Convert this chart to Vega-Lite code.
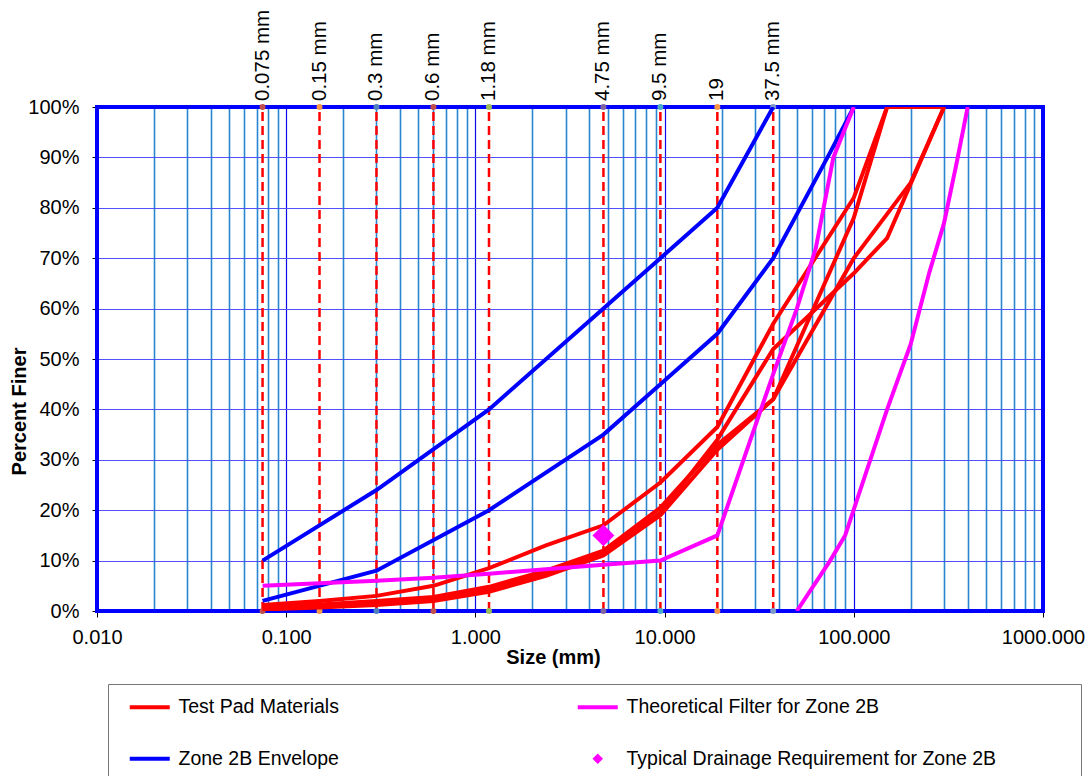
{
  "$schema": "https://vega.github.io/schema/vega-lite/v6.json",
  "width": 946,
  "height": 504,
  "autosize": {"type": "none"},
  "padding": {"left": 97, "top": 107, "right": 43, "bottom": 165},
  "background": "white",
  "config": {"view": {"stroke": null}, "font": "Liberation Sans"},
  "datasets": {
    "sieves": [
      {"size": 0.075, "label": "0.075 mm"},
      {"size": 0.15, "label": "0.15 mm"},
      {"size": 0.3, "label": "0.3 mm"},
      {"size": 0.6, "label": "0.6 mm"},
      {"size": 1.18, "label": "1.18 mm"},
      {"size": 4.75, "label": "4.75 mm"},
      {"size": 9.5, "label": "9.5 mm"},
      {"size": 19, "label": "19"},
      {"size": 37.5, "label": "37.5 mm"}
    ],
    "curves": [
      {"series": "Zone 2B Envelope", "sample": "Z1", "size": 0.075, "pct": 10},
      {"series": "Zone 2B Envelope", "sample": "Z1", "size": 0.3, "pct": 24},
      {"series": "Zone 2B Envelope", "sample": "Z1", "size": 1.18, "pct": 40},
      {"series": "Zone 2B Envelope", "sample": "Z1", "size": 4.75, "pct": 60},
      {"series": "Zone 2B Envelope", "sample": "Z1", "size": 9.5, "pct": 70},
      {"series": "Zone 2B Envelope", "sample": "Z1", "size": 19, "pct": 80},
      {"series": "Zone 2B Envelope", "sample": "Z1", "size": 37.5, "pct": 100},
      {"series": "Zone 2B Envelope", "sample": "Z2", "size": 0.075, "pct": 2},
      {"series": "Zone 2B Envelope", "sample": "Z2", "size": 0.3, "pct": 8},
      {"series": "Zone 2B Envelope", "sample": "Z2", "size": 1.18, "pct": 20},
      {"series": "Zone 2B Envelope", "sample": "Z2", "size": 4.75, "pct": 35},
      {"series": "Zone 2B Envelope", "sample": "Z2", "size": 9.5, "pct": 45},
      {"series": "Zone 2B Envelope", "sample": "Z2", "size": 19, "pct": 55},
      {"series": "Zone 2B Envelope", "sample": "Z2", "size": 37.5, "pct": 70},
      {"series": "Zone 2B Envelope", "sample": "Z2", "size": 75, "pct": 91},
      {"series": "Zone 2B Envelope", "sample": "Z2", "size": 100, "pct": 100},

      {"series": "Test Pad Materials", "sample": "T1", "size": 0.075, "pct": 1.2},
      {"series": "Test Pad Materials", "sample": "T1", "size": 0.15, "pct": 2},
      {"series": "Test Pad Materials", "sample": "T1", "size": 0.3, "pct": 3},
      {"series": "Test Pad Materials", "sample": "T1", "size": 0.6, "pct": 5},
      {"series": "Test Pad Materials", "sample": "T1", "size": 1.18, "pct": 8.5},
      {"series": "Test Pad Materials", "sample": "T1", "size": 2.36, "pct": 13},
      {"series": "Test Pad Materials", "sample": "T1", "size": 4.75, "pct": 17},
      {"series": "Test Pad Materials", "sample": "T1", "size": 9.5, "pct": 25.5},
      {"series": "Test Pad Materials", "sample": "T1", "size": 19, "pct": 36.5},
      {"series": "Test Pad Materials", "sample": "T1", "size": 37.5, "pct": 57},
      {"series": "Test Pad Materials", "sample": "T1", "size": 100, "pct": 82},
      {"series": "Test Pad Materials", "sample": "T1", "size": 150, "pct": 100},
      {"series": "Test Pad Materials", "sample": "T1", "size": 300, "pct": 100},
      {"series": "Test Pad Materials", "sample": "T2", "size": 0.075, "pct": 0.8},
      {"series": "Test Pad Materials", "sample": "T2", "size": 0.15, "pct": 1.3},
      {"series": "Test Pad Materials", "sample": "T2", "size": 0.3, "pct": 2},
      {"series": "Test Pad Materials", "sample": "T2", "size": 0.6, "pct": 2.8},
      {"series": "Test Pad Materials", "sample": "T2", "size": 1.18, "pct": 4.8},
      {"series": "Test Pad Materials", "sample": "T2", "size": 2.36, "pct": 8},
      {"series": "Test Pad Materials", "sample": "T2", "size": 4.75, "pct": 12},
      {"series": "Test Pad Materials", "sample": "T2", "size": 9.5, "pct": 20.5},
      {"series": "Test Pad Materials", "sample": "T2", "size": 19, "pct": 33},
      {"series": "Test Pad Materials", "sample": "T2", "size": 37.5, "pct": 42},
      {"series": "Test Pad Materials", "sample": "T2", "size": 100, "pct": 78},
      {"series": "Test Pad Materials", "sample": "T2", "size": 150, "pct": 100},
      {"series": "Test Pad Materials", "sample": "T3", "size": 0.075, "pct": 0.5},
      {"series": "Test Pad Materials", "sample": "T3", "size": 0.15, "pct": 1},
      {"series": "Test Pad Materials", "sample": "T3", "size": 0.3, "pct": 1.6},
      {"series": "Test Pad Materials", "sample": "T3", "size": 0.6, "pct": 2.4},
      {"series": "Test Pad Materials", "sample": "T3", "size": 1.18, "pct": 4.3},
      {"series": "Test Pad Materials", "sample": "T3", "size": 2.36, "pct": 7.5},
      {"series": "Test Pad Materials", "sample": "T3", "size": 4.75, "pct": 11.5},
      {"series": "Test Pad Materials", "sample": "T3", "size": 9.5, "pct": 19.5},
      {"series": "Test Pad Materials", "sample": "T3", "size": 19, "pct": 34},
      {"series": "Test Pad Materials", "sample": "T3", "size": 37.5, "pct": 52},
      {"series": "Test Pad Materials", "sample": "T3", "size": 100, "pct": 67},
      {"series": "Test Pad Materials", "sample": "T3", "size": 150, "pct": 74},
      {"series": "Test Pad Materials", "sample": "T3", "size": 300, "pct": 100},
      {"series": "Test Pad Materials", "sample": "T4", "size": 0.075, "pct": 0.3},
      {"series": "Test Pad Materials", "sample": "T4", "size": 0.15, "pct": 0.7},
      {"series": "Test Pad Materials", "sample": "T4", "size": 0.3, "pct": 1.2},
      {"series": "Test Pad Materials", "sample": "T4", "size": 0.6, "pct": 2},
      {"series": "Test Pad Materials", "sample": "T4", "size": 1.18, "pct": 3.8},
      {"series": "Test Pad Materials", "sample": "T4", "size": 2.36, "pct": 7},
      {"series": "Test Pad Materials", "sample": "T4", "size": 4.75, "pct": 11},
      {"series": "Test Pad Materials", "sample": "T4", "size": 9.5, "pct": 19},
      {"series": "Test Pad Materials", "sample": "T4", "size": 19, "pct": 32},
      {"series": "Test Pad Materials", "sample": "T4", "size": 37.5, "pct": 42},
      {"series": "Test Pad Materials", "sample": "T4", "size": 100, "pct": 70},
      {"series": "Test Pad Materials", "sample": "T4", "size": 200, "pct": 85},
      {"series": "Test Pad Materials", "sample": "T4", "size": 300, "pct": 100},

      {"series": "Theoretical Filter for Zone 2B", "sample": "F1", "size": 0.075, "pct": 5},
      {"series": "Theoretical Filter for Zone 2B", "sample": "F1", "size": 0.3, "pct": 6},
      {"series": "Theoretical Filter for Zone 2B", "sample": "F1", "size": 0.6, "pct": 6.6},
      {"series": "Theoretical Filter for Zone 2B", "sample": "F1", "size": 1.18, "pct": 7.4},
      {"series": "Theoretical Filter for Zone 2B", "sample": "F1", "size": 2.36, "pct": 8.3},
      {"series": "Theoretical Filter for Zone 2B", "sample": "F1", "size": 4.75, "pct": 9.2},
      {"series": "Theoretical Filter for Zone 2B", "sample": "F1", "size": 9.5, "pct": 10},
      {"series": "Theoretical Filter for Zone 2B", "sample": "F1", "size": 19, "pct": 15},
      {"series": "Theoretical Filter for Zone 2B", "sample": "F1", "size": 37.5, "pct": 47},
      {"series": "Theoretical Filter for Zone 2B", "sample": "F1", "size": 50, "pct": 60},
      {"series": "Theoretical Filter for Zone 2B", "sample": "F1", "size": 63, "pct": 72},
      {"series": "Theoretical Filter for Zone 2B", "sample": "F1", "size": 78, "pct": 90},
      {"series": "Theoretical Filter for Zone 2B", "sample": "F1", "size": 100, "pct": 100},
      {"series": "Theoretical Filter for Zone 2B", "sample": "F2", "size": 50, "pct": 0},
      {"series": "Theoretical Filter for Zone 2B", "sample": "F2", "size": 75, "pct": 10},
      {"series": "Theoretical Filter for Zone 2B", "sample": "F2", "size": 90, "pct": 15},
      {"series": "Theoretical Filter for Zone 2B", "sample": "F2", "size": 150, "pct": 40},
      {"series": "Theoretical Filter for Zone 2B", "sample": "F2", "size": 200, "pct": 53},
      {"series": "Theoretical Filter for Zone 2B", "sample": "F2", "size": 250, "pct": 67},
      {"series": "Theoretical Filter for Zone 2B", "sample": "F2", "size": 300, "pct": 77},
      {"series": "Theoretical Filter for Zone 2B", "sample": "F2", "size": 350, "pct": 89},
      {"series": "Theoretical Filter for Zone 2B", "sample": "F2", "size": 400, "pct": 100}
    ],
    "drainage": [
      {"series": "Typical Drainage Requirement for Zone 2B", "size": 4.75, "pct": 15}
    ]
  },
  "layer": [
    {
      "data": {"name": "sieves"},
      "mark": {"type": "rule", "color": "#ff0000", "strokeDash": [9, 5], "strokeWidth": 2.5},
      "encoding": {
        "x": {
          "field": "size", "type": "quantitative",
          "scale": {"type": "log", "domain": [0.01, 1000], "nice": false},
          "axis": {
            "values": [0.01, 0.02, 0.03, 0.04, 0.05, 0.06, 0.07, 0.08, 0.09, 0.1, 0.2, 0.3, 0.4, 0.5, 0.6, 0.7, 0.8, 0.9, 1, 2, 3, 4, 5, 6, 7, 8, 9, 10, 20, 30, 40, 50, 60, 70, 80, 90, 100, 200, 300, 400, 500, 600, 700, 800, 900, 1000],
            "labelExpr": "abs(log(datum.value)/LN10 - round(log(datum.value)/LN10)) < 0.001 ? format(datum.value, '.3f') : ''",
            "grid": true,
            "gridColor": {"condition": {"test": "abs(log(datum.value)/LN10 - round(log(datum.value)/LN10)) < 0.001", "value": "#0a0ae6"}, "value": "#2a86d2"},
            "gridWidth": {"condition": {"test": "abs(log(datum.value)/LN10 - round(log(datum.value)/LN10)) < 0.001", "value": 1.2}, "value": 1.6},
            "tickColor": {"condition": {"test": "abs(log(datum.value)/LN10 - round(log(datum.value)/LN10)) < 0.001", "value": "#000000"}, "value": "transparent"},
            "tickSize": 6,
            "labelFontSize": 20, "labelFont": "Liberation Sans", "labelColor": "#000000",
            "labelPadding": 10, "labelFlush": false, "labelOverlap": false,
            "domainColor": "#000000", "domainWidth": 2,
            "title": "Size (mm)", "titleFontSize": 20, "titleFont": "Liberation Sans", "titleFontWeight": "bold", "titleColor": "#000000",
            "titleX": 456, "titleAlign": "center", "titlePadding": 0
          }
        },
        "y": {
          "datum": 0, "type": "quantitative",
          "scale": {"domain": [0, 100], "nice": false},
          "axis": {
            "values": [0, 10, 20, 30, 40, 50, 60, 70, 80, 90, 100],
            "labelExpr": "datum.value + '%'",
            "grid": true, "gridColor": "#5050ff", "gridWidth": 1.1,
            "tickColor": "#000000", "tickSize": 5,
            "labelFontSize": 20, "labelFont": "Liberation Sans", "labelColor": "#000000", "labelPadding": 13,
            "domainColor": "#000000", "domainWidth": 2,
            "title": "Percent Finer", "titleFontSize": 20, "titleFont": "Liberation Sans", "titleFontWeight": "bold", "titleColor": "#000000",
            "titleX": -68, "titleY": 304, "titleAlign": "center", "titleAngle": 270
          }
        },
        "y2": {"datum": 100}
      }
    },
    {
      "data": {"values": [{}]},
      "mark": {"type": "rect", "fill": null, "stroke": "#0000ff", "strokeWidth": 4},
      "encoding": {
        "x": {"datum": 0.01, "type": "quantitative"},
        "x2": {"datum": 1000},
        "y": {"datum": 0, "type": "quantitative"},
        "y2": {"datum": 100}
      }
    },
    {
      "data": {"name": "sieves"},
      "mark": {"type": "point", "filled": true, "size": 36, "opacity": 1},
      "encoding": {
        "x": {"field": "size", "type": "quantitative"},
        "y": {"datum": 0, "type": "quantitative"},
        "fill": {"field": "label", "type": "nominal", "legend": null,
          "scale": {"domain": ["0.075 mm", "0.15 mm", "0.3 mm", "0.6 mm", "1.18 mm", "4.75 mm", "9.5 mm", "19", "37.5 mm"],
                    "range": ["#C0504D", "#F79646", "#4F81BD", "#C0504D", "#9BBB59", "#8064A2", "#4BACC6", "#F79646", "#7E9BC8"]}}
      }
    },
    {
      "data": {"name": "sieves"},
      "mark": {"type": "point", "filled": true, "size": 36, "opacity": 1},
      "encoding": {
        "x": {"field": "size", "type": "quantitative"},
        "y": {"datum": 100, "type": "quantitative"},
        "fill": {"field": "label", "type": "nominal", "legend": null}
      }
    },
    {
      "data": {"name": "sieves"},
      "mark": {"type": "text", "angle": 270, "align": "left", "baseline": "middle", "dx": 6, "fontSize": 20.5, "font": "Liberation Sans", "color": "#000000"},
      "encoding": {
        "x": {"field": "size", "type": "quantitative"},
        "y": {"datum": 100, "type": "quantitative"},
        "text": {"field": "label"}
      }
    },
    {
      "data": {"name": "curves"},
      "mark": {"type": "line", "strokeWidth": 4, "clip": true},
      "encoding": {
        "x": {"field": "size", "type": "quantitative"},
        "y": {"field": "pct", "type": "quantitative"},
        "detail": {"field": "sample", "type": "nominal"},
        "order": {"field": "size", "type": "quantitative"},
        "color": {
          "field": "series", "type": "nominal",
          "scale": {
            "domain": ["Test Pad Materials", "Zone 2B Envelope", "Theoretical Filter for Zone 2B", "Typical Drainage Requirement for Zone 2B"],
            "range": ["#ff0000", "#0000ff", "#ff00ff", "#ff00ff"]
          },
          "legend": {
            "title": " ", "titleOrient": "right", "titlePadding": 72,
            "orient": "none", "legendX": 11, "legendY": 577,
            "columns": 2, "columnPadding": 230, "rowPadding": 31,
            "padding": 13, "strokeColor": "#777777", "fillColor": "#ffffff",
            "symbolType": "stroke", "symbolSize": 1600, "symbolStrokeWidth": 4, "symbolOffset": 19,
            "labelFontSize": 19.5, "labelFont": "Liberation Sans", "labelColor": "#000000", "labelOffset": 19, "labelLimit": 600,
            "encode": {
              "symbols": {
                "update": {
                  "shape": {"signal": "datum.value === 'Typical Drainage Requirement for Zone 2B' ? 'diamond' : 'stroke'"},
                  "size": {"signal": "datum.value === 'Typical Drainage Requirement for Zone 2B' ? 110 : 1600"},
                  "strokeWidth": {"signal": "datum.value === 'Typical Drainage Requirement for Zone 2B' ? 0 : 4"},
                  "fill": {"signal": "datum.value === 'Typical Drainage Requirement for Zone 2B' ? '#ff00ff' : 'transparent'"},
                  "stroke": {"signal": "scale('color', datum.value)"},
                  "opacity": {"value": 1}
                }
              }
            }
          }
        }
      }
    },
    {
      "data": {"name": "drainage"},
      "mark": {"type": "point", "shape": "diamond", "filled": true, "size": 480, "opacity": 1},
      "encoding": {
        "x": {"field": "size", "type": "quantitative"},
        "y": {"field": "pct", "type": "quantitative"},
        "color": {"field": "series", "type": "nominal"}
      }
    }
  ]
}
